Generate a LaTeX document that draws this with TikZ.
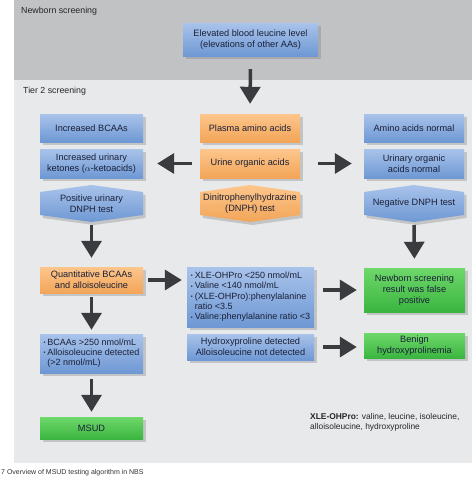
\documentclass[tikz,border=0pt]{standalone}
\usepackage{fontspec}
\setmainfont{Liberation Sans}
\usetikzlibrary{arrows.meta,shadows}
\definecolor{panelA}{HTML}{C1C2C4}
\definecolor{panelB}{HTML}{E8E9EB}
\definecolor{blueT}{HTML}{A9C3EA}
\definecolor{blueB}{HTML}{6E98D4}
\definecolor{orT}{HTML}{FDC68C}
\definecolor{orB}{HTML}{F2A558}
\definecolor{grT}{HTML}{6ED86A}
\definecolor{grB}{HTML}{3BB540}
\definecolor{arrowgray}{HTML}{3A3B3E}
\definecolor{txt}{HTML}{1A2038}
\newcommand{\bul}{{\fontsize{5.5}{5.5}\selectfont\raisebox{0.6pt}{\textbullet}}}
\tikzset{
  box/.style={draw=none, inner sep=1pt, align=center, text=txt,
    font=\fontsize{9.2}{11}\selectfont,
    drop shadow={shadow xshift=2.5pt, shadow yshift=-3pt, opacity=0.35}},
  bluebox/.style={box, top color=blueT, bottom color=blueB},
  orbox/.style={box, top color=orT, bottom color=orB},
  grbox/.style={box, top color=grT, bottom color=grB},
  hextext/.style={inner sep=0pt, align=center, text=txt, font=\fontsize{9.2}{11}\selectfont},
  hexblue/.style={top color=blueT, bottom color=blueB, drop shadow={shadow xshift=2.5pt, shadow yshift=-3pt, opacity=0.35}},
  hexor/.style={top color=orT, bottom color=orB, drop shadow={shadow xshift=2.5pt, shadow yshift=-3pt, opacity=0.35}},
  bigarrow/.style={draw=arrowgray, line width=3.5pt, -{Triangle[width=20pt,length=17pt]}},
  panellabel/.style={anchor=west, inner sep=0pt, font=\fontsize{8.8}{10}\selectfont, text=black!85}
}
\newcommand{\hexshape}[4]{% x-left, x-right, y-top, style
  \path[#4] (#1,#3+7) -- ({(#1+#2)/2},#3) -- (#2,#3+7) -- (#2,#3+30) -- ({(#1+#2)/2},#3+37) -- (#1,#3+30) -- cycle;}
\begin{document}
\begin{tikzpicture}[x=1pt,y=-1pt]
\useasboundingbox (0,0) rectangle (474,477);
\fill[white] (0,0) rectangle (474,477);
% panels
\fill[panelA] (14,0) rectangle (472,80);
\fill[panelB] (14,80) rectangle (472,463);
\node[panellabel] (lab1) at (21,11) {Newborn screening};
\node[panellabel] (lab2) at (23,91) {Tier 2 screening};
% top box
\node[bluebox, minimum width=135pt, minimum height=33pt] (elev) at (250.5,39.5) {Elevated blood leucine level\\(elevations of other AAs)};
% row 1
\node[bluebox, minimum width=103pt, minimum height=28pt] (incB) at (91.5,128) {Increased BCAAs};
\node[orbox, minimum width=100pt, minimum height=28pt] (plasma) at (250,128) {Plasma amino acids};
\node[bluebox, minimum width=100pt, minimum height=28pt] (aanorm) at (414,128) {Amino acids normal};
% row 2
\node[bluebox, minimum width=103pt, minimum height=29pt] (keto) at (91.5,163.5) {Increased urinary\\ketones ($\alpha$-ketoacids)};
\node[orbox, minimum width=100pt, minimum height=29pt] (urine) at (250,163.5) {Urine organic acids};
\node[bluebox, minimum width=100pt, minimum height=29pt] (uonorm) at (414,163.5) {Urinary organic\\acids normal};
% row 3 hexagons
\hexshape{40}{143}{185}{hexblue}
\hexshape{200}{300}{185}{hexor}
\hexshape{364}{464}{185}{hexblue}
\node[hextext] (posD) at (91.5,203.5) {Positive urinary\\DNPH test};
\node[hextext] (dnph) at (250,203.5) {Dinitrophenylhydrazine\\(DNPH) test};
\node[hextext] (negD) at (414,203.5) {Negative DNPH test};
% row 4
\node[orbox, minimum width=103pt, minimum height=26pt] (quant) at (91.5,280) {Quantitative BCAAs\\and alloisoleucine};
\node[bluebox, minimum width=127pt, minimum height=60pt, align=left, font=\fontsize{9}{10.3}\selectfont] (xle) at (250.5,297) {%
\begin{tabular}{@{}l@{\hspace{2pt}}l@{}}
\bul & XLE-OHPro <250 nmol/mL\\
\bul & Valine <140 nmol/mL\\
\bul & (XLE-OHPro):phenylalanine\\
 & ratio <3.5\\
\bul & Valine:phenylalanine ratio <3
\end{tabular}};
\node[grbox, minimum width=101pt, minimum height=44pt] (fp) at (414.5,290) {Newborn screening\\result was false\\positive};
% row 5
\node[bluebox, minimum width=103pt, minimum height=39pt, align=left, font=\fontsize{9}{10.3}\selectfont] (bcaa) at (91.5,353.5) {%
\begin{tabular}{@{}l@{\hspace{2pt}}l@{}}
\bul & BCAAs >250 nmol/mL\\
\bul & Alloisoleucine detected\\
 & (>2 nmol/mL)
\end{tabular}};
\node[bluebox, minimum width=127pt, minimum height=26pt] (hyp) at (250.5,347) {Hydroxyproline detected\\Alloisoleucine not detected};
\node[grbox, minimum width=101pt, minimum height=25pt] (benign) at (414.5,345.5) {Benign\\hydroxyprolinemia};
% MSUD
\node[grbox, minimum width=103pt, minimum height=22pt] (msud) at (91.5,428) {MSUD};
% note
\node[anchor=north west, inner sep=0pt, align=left, font=\fontsize{8.4}{10}\selectfont, text=black!85] (note) at (310,413) {\textbf{XLE-OHPro:} valine, leucine, isoleucine,\\alloisoleucine, hydroxyproline};
% caption
\node[anchor=west, inner sep=0pt, font=\fontsize{7}{8}\selectfont, text=black!80] (cap) at (1,473) {7 Overview of MSUD testing algorithm in NBS};
% arrows
\draw[bigarrow, shorten <=13pt, shorten >=10pt] (elev.south) -- (plasma.north);
\draw[bigarrow, shorten <=8pt, shorten >=14pt] (urine.west) -- (keto.east);
\draw[bigarrow, shorten <=18pt, shorten >=12pt] (urine.east) -- (uonorm.west);
\draw[bigarrow, shorten <=3pt, shorten >=9pt] (posD.center |- 0,222) coordinate (pb) -- (quant.north);
\draw[bigarrow, shorten <=3pt, shorten >=9pt] (negD.center |- 0,222) coordinate (nb) -- (fp.north);
\draw[bigarrow, shorten <=5pt, shorten >=5pt] (quant.east) -- (quant.east -| xle.west);
\draw[bigarrow, shorten <=9pt, shorten >=7pt] (xle.east |- fp.center) -- (fp.west);
\draw[bigarrow, shorten <=9pt, shorten >=7pt] (hyp.east) -- (benign.west |- hyp.east);
\draw[bigarrow, shorten <=4pt, shorten >=4pt] (quant.south) -- (bcaa.north);
\draw[bigarrow, shorten <=6pt, shorten >=5pt] (bcaa.south) -- (msud.north);
\end{tikzpicture}
\end{document}
